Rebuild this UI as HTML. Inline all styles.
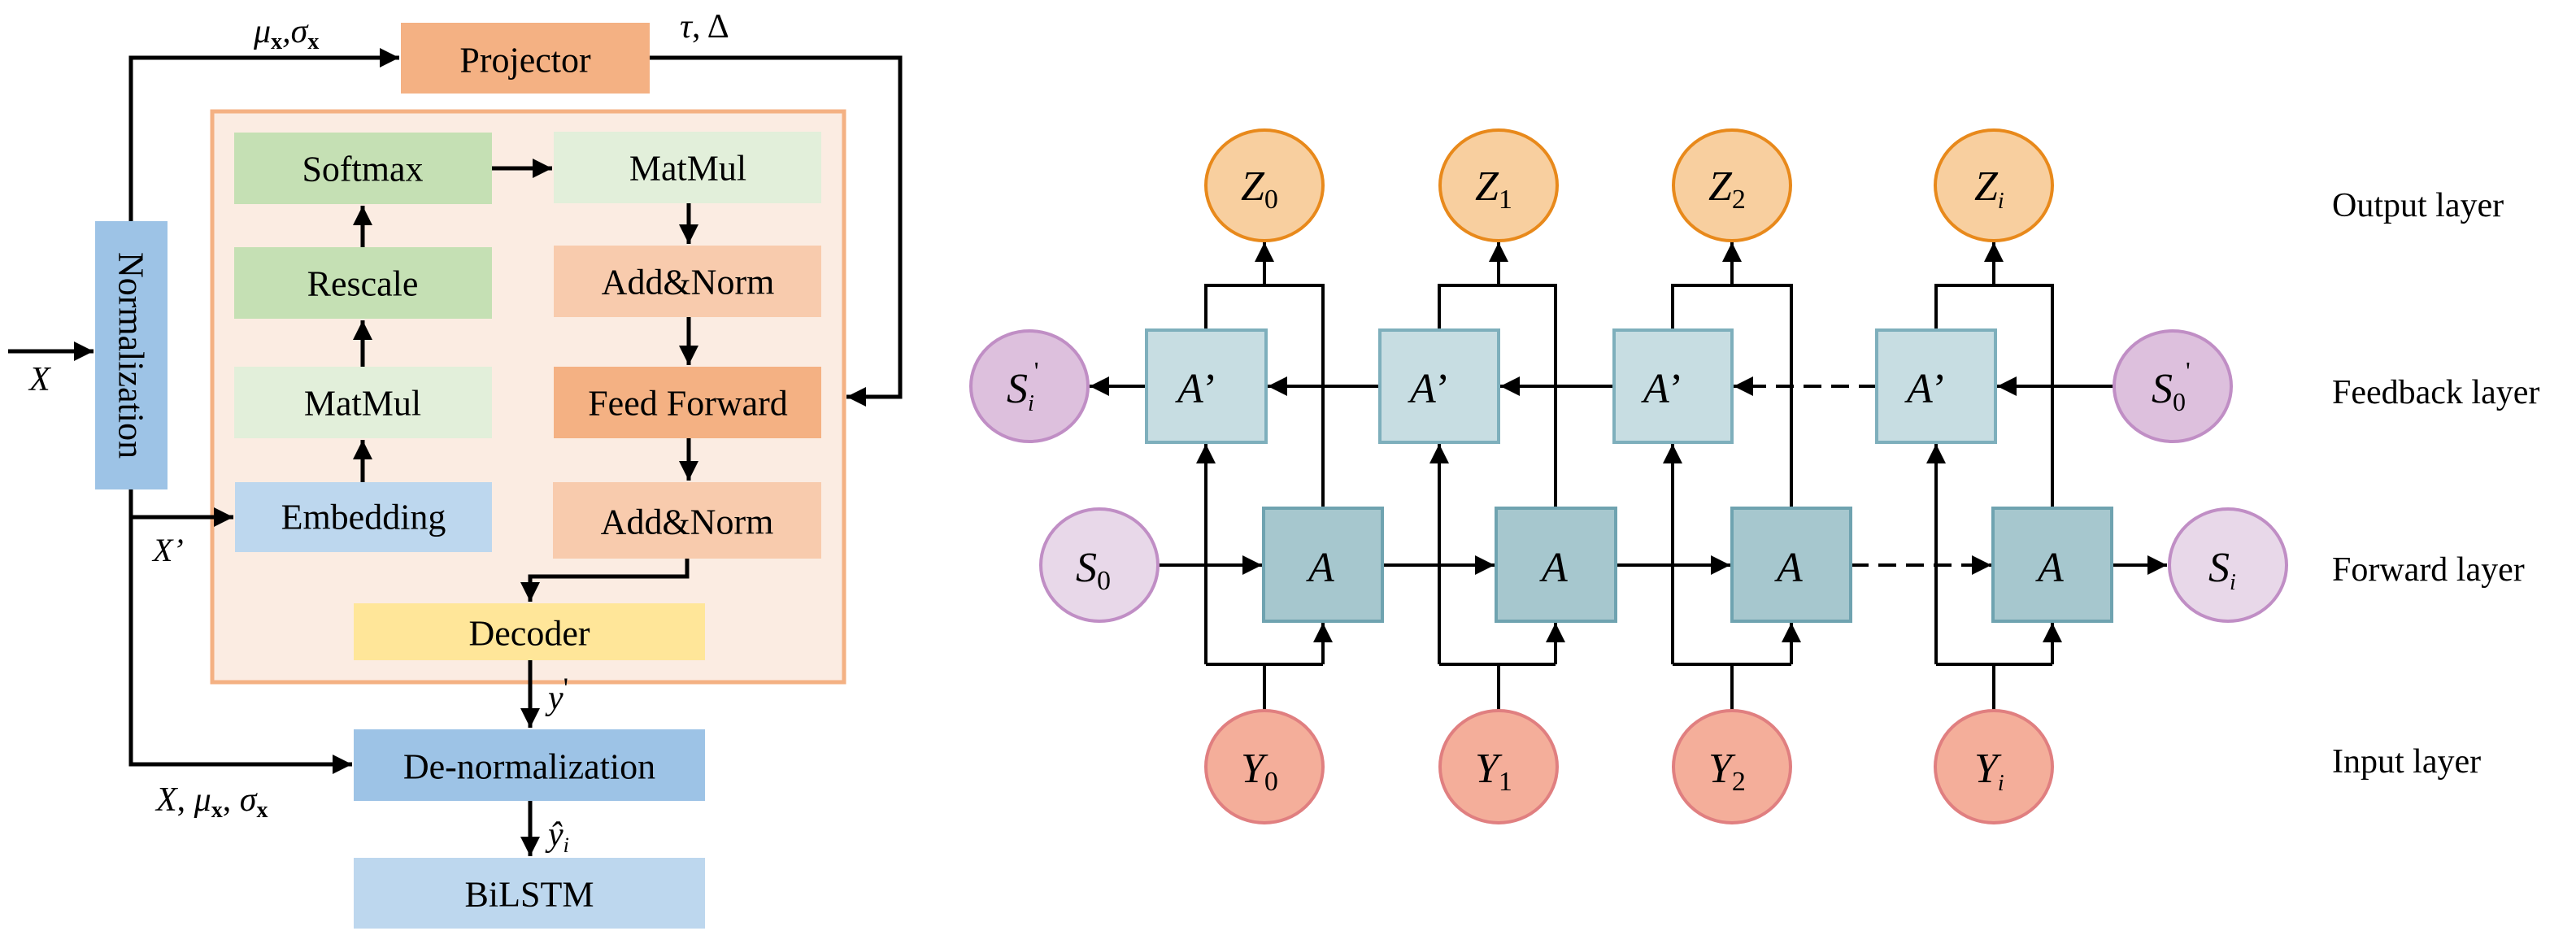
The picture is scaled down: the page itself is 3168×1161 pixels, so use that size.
<!DOCTYPE html>
<html><head><meta charset="utf-8"><style>
html,body{margin:0;padding:0;background:#fff;}
svg{display:block;font-family:"Liberation Serif","Times New Roman",Times,"DejaVu Serif",serif;}
svg text{font-family:"Liberation Serif","Times New Roman",Times,"DejaVu Serif",serif;fill:#000;}
.t{font-size:44px;text-anchor:middle;dominant-baseline:central;}
.m{font-style:italic;}
</style></head><body>
<svg width="3168" height="1161" viewBox="0 0 3168 1161" xmlns="http://www.w3.org/2000/svg" font-family="Liberation Serif, serif">
<defs>
<marker id="ar" markerUnits="userSpaceOnUse" markerWidth="26" markerHeight="26" refX="24" refY="12" orient="auto"><path d="M0,0 L24,12 L0,24 Z" fill="#000"/></marker>
</defs>
<!-- LEFT DIAGRAM -->
<rect x="261" y="137" width="777" height="702" fill="#FBECE2" stroke="#F4B183" stroke-width="5"/>
<rect x="493" y="28" width="306" height="87" fill="#F4B183"/>
<text class="t" x="646" y="74">Projector</text>
<rect x="117" y="272" width="89" height="330" fill="#9DC3E6"/>
<text class="t" transform="translate(161,437) rotate(90)">Normalization</text>
<rect x="288" y="163" width="317" height="88" fill="#C5E0B4"/><text class="t" x="446" y="208">Softmax</text>
<rect x="681" y="162" width="329" height="88" fill="#E2EFDA"/><text class="t" x="846" y="207">MatMul</text>
<rect x="288" y="304" width="317" height="88" fill="#C5E0B4"/><text class="t" x="446" y="349">Rescale</text>
<rect x="681" y="302" width="329" height="88" fill="#F8CBAD"/><text class="t" x="846" y="347">Add&amp;Norm</text>
<rect x="288" y="451" width="317" height="88" fill="#E2EFDA"/><text class="t" x="446" y="496">MatMul</text>
<rect x="681" y="451" width="329" height="88" fill="#F4B183"/><text class="t" x="846" y="496">Feed Forward</text>
<rect x="289" y="593" width="316" height="86" fill="#BDD7EE"/><text class="t" x="447" y="636">Embedding</text>
<rect x="680" y="593" width="330" height="94" fill="#F8CBAD"/><text class="t" x="845" y="642">Add&amp;Norm</text>
<rect x="435" y="742" width="432" height="70" fill="#FFE699"/><text class="t" x="651" y="779">Decoder</text>
<rect x="435" y="897" width="432" height="88" fill="#9DC3E6"/><text class="t" x="651" y="943">De-normalization</text>
<rect x="435" y="1055" width="432" height="87" fill="#BDD7EE"/><text class="t" x="651" y="1100">BiLSTM</text>

<g stroke="#000" stroke-width="5" fill="none">
<path d="M161,272 V71 H491" marker-end="url(#ar)"/>
<path d="M799,71 H1107 V488 H1041" marker-end="url(#ar)"/>
<path d="M10,432 H115" marker-end="url(#ar)"/>
<path d="M161,602 V940 H433" marker-end="url(#ar)"/>
<path d="M161,636 H287" marker-end="url(#ar)"/>
<path d="M605,207 H679" marker-end="url(#ar)"/>
<path d="M446,304 V253" marker-end="url(#ar)"/>
<path d="M446,451 V394" marker-end="url(#ar)"/>
<path d="M446,593 V541" marker-end="url(#ar)"/>
<path d="M847,250 V300" marker-end="url(#ar)"/>
<path d="M847,390 V449" marker-end="url(#ar)"/>
<path d="M847,539 V591" marker-end="url(#ar)"/>
<path d="M845,687 V709 H652 V740" marker-end="url(#ar)"/>
<path d="M652,812 V895" marker-end="url(#ar)"/>
<path d="M652,985 V1053" marker-end="url(#ar)"/>
</g>
<text x="312" y="52" font-size="42" class="m">μ<tspan font-size="28" font-style="normal" font-weight="bold" dy="8">x</tspan><tspan dy="-8">,σ</tspan><tspan font-size="28" font-style="normal" font-weight="bold" dy="8">x</tspan></text>
<text x="836" y="46" font-size="42" class="m">τ<tspan font-style="normal">, Δ</tspan></text>
<text x="36" y="480" font-size="42" class="m">X</text>
<text x="188" y="690" font-size="40" class="m">X’</text>
<text x="674" y="872" font-size="42" class="m">y<tspan font-style="normal" font-size="36" dy="-14">'</tspan></text>
<text x="674" y="1040" font-size="42" class="m">ŷ<tspan font-size="26" dy="8">i</tspan></text>
<text x="192" y="997" font-size="42" class="m">X<tspan font-style="normal">, </tspan>μ<tspan font-size="28" font-style="normal" font-weight="bold" dy="8">x</tspan><tspan font-style="normal" dy="-8">, </tspan>σ<tspan font-size="28" font-style="normal" font-weight="bold" dy="8">x</tspan></text>

<!-- RIGHT DIAGRAM -->
<g stroke="#000" stroke-width="4" fill="none">
<path d="M1483,406 V351 H1627 V625"/><path d="M1555,351 V298" marker-end="url(#ar)"/>
<path d="M1555,873 V817"/><path d="M1483,817 H1627"/><path d="M1483,817 V546" marker-end="url(#ar)"/><path d="M1627,817 V766" marker-end="url(#ar)"/>
<path d="M1770,406 V351 H1913 V625"/><path d="M1843,351 V298" marker-end="url(#ar)"/>
<path d="M1843,873 V817"/><path d="M1770,817 H1913"/><path d="M1770,817 V546" marker-end="url(#ar)"/><path d="M1913,817 V766" marker-end="url(#ar)"/>
<path d="M2057,406 V351 H2203 V625"/><path d="M2130,351 V298" marker-end="url(#ar)"/>
<path d="M2130,873 V817"/><path d="M2057,817 H2203"/><path d="M2057,817 V546" marker-end="url(#ar)"/><path d="M2203,817 V766" marker-end="url(#ar)"/>
<path d="M2381,406 V351 H2524 V625"/><path d="M2452,351 V298" marker-end="url(#ar)"/>
<path d="M2452,873 V817"/><path d="M2381,817 H2524"/><path d="M2381,817 V546" marker-end="url(#ar)"/><path d="M2524,817 V766" marker-end="url(#ar)"/>
<path d="M2600,475 H2456" marker-end="url(#ar)"/>
<path d="M2308,475 H2132" stroke-dasharray="22,12" marker-end="url(#ar)"/>
<path d="M1985,475 H1845" marker-end="url(#ar)"/>
<path d="M1697,475 H1559" marker-end="url(#ar)"/>
<path d="M1410,475 H1340" marker-end="url(#ar)"/>
<path d="M1424,695 H1552" marker-end="url(#ar)"/>
<path d="M1700,695 H1838" marker-end="url(#ar)"/>
<path d="M1987,695 H2128" marker-end="url(#ar)"/>
<path d="M2276,695 H2449" stroke-dasharray="22,12" marker-end="url(#ar)"/>
<path d="M2597,695 H2665" marker-end="url(#ar)"/>
</g>
<g stroke-width="4">
<rect x="1410" y="406" width="147" height="138" fill="#C7DDE2" stroke="#7EAFBC"/>
<rect x="1697" y="406" width="146" height="138" fill="#C7DDE2" stroke="#7EAFBC"/>
<rect x="1985" y="406" width="145" height="138" fill="#C7DDE2" stroke="#7EAFBC"/>
<rect x="2308" y="406" width="146" height="138" fill="#C7DDE2" stroke="#7EAFBC"/>
<rect x="1554" y="625" width="146" height="139" fill="#A6C7CE" stroke="#6FA3B0"/>
<rect x="1840" y="625" width="147" height="139" fill="#A6C7CE" stroke="#6FA3B0"/>
<rect x="2130" y="625" width="146" height="139" fill="#A6C7CE" stroke="#6FA3B0"/>
<rect x="2451" y="625" width="146" height="139" fill="#A6C7CE" stroke="#6FA3B0"/>
<ellipse cx="1555" cy="228" rx="72" ry="68" fill="#F8CF9F" stroke="#E8891B"/>
<ellipse cx="1843" cy="228" rx="72" ry="68" fill="#F8CF9F" stroke="#E8891B"/>
<ellipse cx="2130" cy="228" rx="72" ry="68" fill="#F8CF9F" stroke="#E8891B"/>
<ellipse cx="2452" cy="228" rx="72" ry="68" fill="#F8CF9F" stroke="#E8891B"/>
<ellipse cx="1555" cy="943" rx="72" ry="69" fill="#F4AE9A" stroke="#E07F80"/>
<ellipse cx="1843" cy="943" rx="72" ry="69" fill="#F4AE9A" stroke="#E07F80"/>
<ellipse cx="2130" cy="943" rx="72" ry="69" fill="#F4AE9A" stroke="#E07F80"/>
<ellipse cx="2452" cy="943" rx="72" ry="69" fill="#F4AE9A" stroke="#E07F80"/>
<ellipse cx="1266" cy="475" rx="72" ry="68" fill="#DDC0DD" stroke="#C08EC5"/>
<ellipse cx="2672" cy="475" rx="72" ry="68" fill="#DDC0DD" stroke="#C08EC5"/>
<ellipse cx="1352" cy="695" rx="72" ry="69" fill="#E8D8E9" stroke="#C08EC5"/>
<ellipse cx="2740" cy="695" rx="72" ry="69" fill="#E8D8E9" stroke="#C08EC5"/>
</g>
<g font-size="52" class="m">
<text x="1526" y="246">Z<tspan font-style="normal" font-size="34" dy="10">0</tspan></text>
<text x="1814" y="246">Z<tspan font-style="normal" font-size="34" dy="10">1</tspan></text>
<text x="2101" y="246">Z<tspan font-style="normal" font-size="34" dy="10">2</tspan></text>
<text x="2428" y="246">Z<tspan font-size="28" dy="10">i</tspan></text>
<text x="1526" y="962">Y<tspan font-style="normal" font-size="34" dy="10">0</tspan></text>
<text x="1814" y="962">Y<tspan font-style="normal" font-size="34" dy="10">1</tspan></text>
<text x="2101" y="962">Y<tspan font-style="normal" font-size="34" dy="10">2</tspan></text>
<text x="2428" y="962">Y<tspan font-size="28" dy="10">i</tspan></text>
<text x="1238" y="495">S<tspan font-size="28" dy="10">i</tspan><tspan font-style="normal" font-size="32" dy="-38">'</tspan></text>
<text x="2646" y="495">S<tspan font-style="normal" font-size="32" dy="10">0</tspan><tspan font-style="normal" font-size="32" dy="-38">'</tspan></text>
<text x="1323" y="715">S<tspan font-style="normal" font-size="34" dy="10">0</tspan></text>
<text x="2716" y="715">S<tspan font-size="28" dy="10">i</tspan></text>
<text x="1448" y="495">A<tspan font-style="normal">’</tspan></text>
<text x="1734" y="495">A<tspan font-style="normal">’</tspan></text>
<text x="2021" y="495">A<tspan font-style="normal">’</tspan></text>
<text x="2345" y="495">A<tspan font-style="normal">’</tspan></text>
<text x="1609" y="715">A</text>
<text x="1896" y="715">A</text>
<text x="2185" y="715">A</text>
<text x="2506" y="715">A</text>
</g>
<g font-size="42">
<text x="2868" y="266">Output layer</text>
<text x="2868" y="496">Feedback layer</text>
<text x="2868" y="714">Forward layer</text>
<text x="2868" y="950">Input layer</text>
</g>
</svg>
</body></html>
